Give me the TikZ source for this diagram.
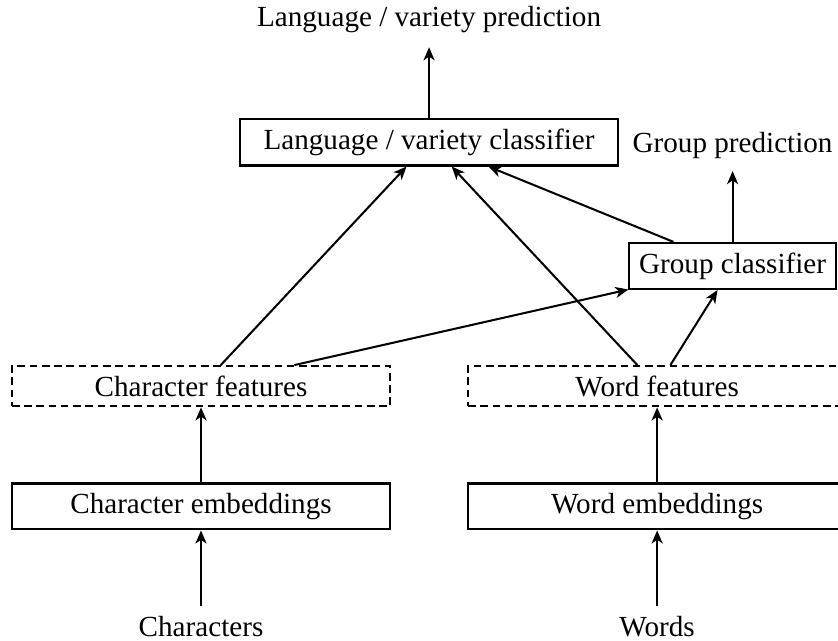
\documentclass[tikz,border=0pt]{standalone}
\usepackage{fontspec}
\setmainfont{Liberation Serif}
\usetikzlibrary{arrows.meta}
\tikzset{
    box/.style={draw, line width=0.7pt, inner sep=3.33pt},
    widebox/.style={box, minimum width=4.56cm},
    featbox/.style={widebox, dash pattern=on 2.6pt off 1.6pt},
    textlabel/.style={inner sep=3.33pt},
    arr/.style={-{Stealth[length=4.5pt, width=3.8pt, inset=1.3pt]}, line width=0.7pt}
}
\begin{document}
\begin{tikzpicture}
            \useasboundingbox (-2.424, -1.622) rectangle (7.681, 6.107);
            \node[textlabel, anchor=base] (chars) at (0, -1.574) {Characters};
            \node[textlabel, anchor=base] (words) at (5.5, -1.574) {Words};
            \node[widebox] (charemb) at (0, 0) {Character embeddings};
            \node[widebox] (wordemb) at (5.5, 0) {Word embeddings};
            \node[featbox] (charfeat) at (0, 1.45) {Character features};
            \node[featbox] (wordfeat) at (5.5, 1.45) {Word features};
            \node[box] (grp) at (6.41, 2.9) {Group classifier};
            \node[widebox] (lvc) at (2.75, 4.39) {Language / variety classifier};
            \node[textlabel, inner sep=4.2pt, anchor=base] (grppred) at (6.41, 4.274) {Group prediction};
            \node[textlabel, inner sep=4.6pt, anchor=base] (lvcpred) at (2.75, 5.782) {Language / variety prediction};
            \draw[arr] (chars) -- (charemb);
            \draw[arr] (words) -- (wordemb);
            \draw[arr] (charemb) -- (charfeat);
            \draw[arr] (wordemb) -- (wordfeat);
            \draw[arr] (charfeat) -- (lvc);
            \draw[arr] (charfeat) -- (grp);
            \draw[arr] (wordfeat) -- (lvc);
            \draw[arr] (wordfeat) -- (grp);
            \draw[arr] (grp) -- (lvc);
            \draw[arr] (grp) -- (grppred);
            \draw[arr] (lvc) -- (lvcpred);
\end{tikzpicture}
\end{document}
